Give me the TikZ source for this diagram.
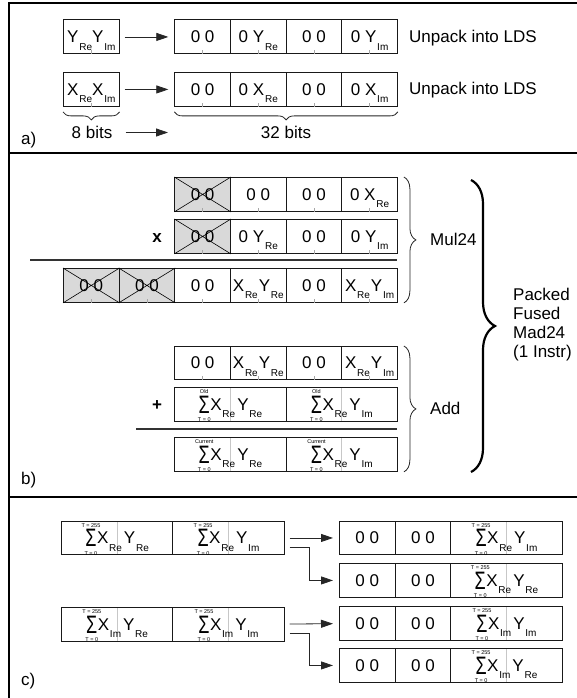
\documentclass[tikz,border=0pt]{standalone}
\usepackage{fontspec}
\usepackage{graphicx}
\setmainfont{Liberation Sans}
\usetikzlibrary{arrows.meta,decorations.pathreplacing,backgrounds}
\newcommand{\sbx}[1]{\kern0.8pt\raisebox{-7.5pt}[0pt][0pt]{\fontsize{10}{10}\selectfont #1}}
\newsavebox\sgbox
\newcommand{\Sg}[1]{%
 \sbox\sgbox{\raisebox{-3pt}{\scalebox{1}[1.4]{\fontsize{18}{18}\selectfont Σ}}}%
 \rlap{\makebox[\wd\sgbox]{\raisebox{16.5pt}[0pt][0pt]{\fontsize{5.5}{5.5}\selectfont #1}}}%
 \rlap{\makebox[\wd\sgbox]{\raisebox{-11.5pt}[0pt][0pt]{\fontsize{5.5}{5.5}\selectfont T = 0}}}%
 \usebox\sgbox\kern0.5pt}
\begin{document}
\begin{tikzpicture}[x=1pt,y=-1pt,
 cell/.style={draw=black!90, line width=0.9pt, minimum width=55.67pt, minimum height=34pt, inner sep=0pt, anchor=north west, text height=12pt, text depth=0pt, font=\fontsize{17}{17}\selectfont},
 dcell/.style={cell, minimum width=111.33pt},
 xcell/.style={cell, fill=black!15},
 lbl/.style={inner sep=0pt, font=\fontsize{17}{19}\selectfont},
 arr/.style={draw=black!85, line width=0.8pt, -{Triangle[length=12pt,width=8pt]}},
 tickmark/.style={draw=black!35, line width=0.5pt},
 midl/.style={draw=black!22, line width=0.7pt},
 crs/.style={draw=black, line width=0.6pt},
 sepline/.style={draw=black!80, line width=1.5pt},
 frm/.style={draw=black, line width=2.6pt},
 brc/.style={draw=black!85, line width=0.8pt, decorate, decoration={brace, amplitude=#1}},
 brc/.default=12pt,
 brcm/.style={draw=black!85, line width=0.8pt, decorate, decoration={brace, mirror, amplitude=#1}},
 brcm/.default=8pt,
 bigbrc/.style={draw=black, line width=2.2pt, decorate, decoration={brace, amplitude=24pt}},
]
\useasboundingbox (0,0) rectangle (576,698);
% frame
\draw[frm] (9,3) rectangle (600,720);
\draw[frm] (9,153) -- (600,153);
\draw[frm] (9,497) -- (600,497);

% ---------- a)
\node[cell] (ys) at (63,19.5) {Y\sbx{Re}Y\sbx{Im}};
\node[cell] (y1) at (174.33,19.5) {0 0};
\node[cell] (y2) at (230,19.5) {0 Y\sbx{Re}};
\node[cell] (y3) at (285.67,19.5) {0 0};
\node[cell] (y4) at (341.33,19.5) {0 Y\sbx{Im}};
\node[lbl, anchor=base west] (u1) at (409,42.5) {Unpack into LDS};
\node[cell] (xs) at (63,72) {X\sbx{Re}X\sbx{Im}};
\node[cell] (x1) at (174.33,72) {0 0};
\node[cell] (x2) at (230,72) {0 X\sbx{Re}};
\node[cell] (x3) at (285.67,72) {0 0};
\node[cell] (x4) at (341.33,72) {0 X\sbx{Im}};
\node[lbl, anchor=base west] (u2) at (409,95) {Unpack into LDS};
\draw[arr, shorten <=5pt, shorten >=6pt] (ys) -- (y1);
\draw[arr, shorten <=5pt, shorten >=6pt] (xs) -- (x1);
\draw[brcm] ([yshift=-5pt]xs.south west) -- ([yshift=-5pt]xs.south east);
\draw[brcm] ([yshift=-5pt]x1.south west) -- ([yshift=-5pt]x4.south east);
\node[lbl, anchor=base] (b8) at (92,139) {8 bits};
\node[lbl, anchor=base] (b32) at (286,139) {32 bits};
\coordinate (a8) at (168,132.5);
\draw[arr, shorten <=13pt] (b8.east |- a8) -- (a8);
\node[lbl, anchor=base west] (la) at (21,144) {a)};

% ---------- b)
\node[xcell] (p1a) at (174.33,177) {0 0};
\node[cell] (p1b) at (230,177) {0 0};
\node[cell] (p1c) at (285.67,177) {0 0};
\node[cell] (p1d) at (341.33,177) {0 X\sbx{Re}};
\node[xcell] (p2a) at (174.33,219) {0 0};
\node[cell] (p2b) at (230,219) {0 Y\sbx{Re}};
\node[cell] (p2c) at (285.67,219) {0 0};
\node[cell] (p2d) at (341.33,219) {0 Y\sbx{Im}};
\node[lbl, font=\bfseries\fontsize{17}{17}\selectfont, anchor=base] (mx) at (157,242.5) {x};
\draw[sepline] (30,260) -- (397,260);
\node[xcell] (p3a) at (63,268) {0 0};
\node[xcell] (p3b) at (118.67,268) {0 0};
\node[cell] (p3c) at (174.33,268) {0 0};
\node[cell] (p3d) at (230,268) {X\sbx{Re}\kern1pt Y\sbx{Re}};
\node[cell] (p3e) at (285.67,268) {0 0};
\node[cell] (p3f) at (341.33,268) {X\sbx{Re}\kern1pt Y\sbx{Im}};
\foreach \n in {p1a,p2a,p3a,p3b}
  \draw[crs] (\n.north west) -- (\n.south east) (\n.north east) -- (\n.south west);
\draw[brc] ([xshift=6pt]p1d.north east) -- ([xshift=6pt]p3f.south east);
\node[lbl, anchor=base west] (mul) at (430,245) {Mul24};

\node[cell, minimum height=33pt] (q1a) at (174.33,346) {0 0};
\node[cell, minimum height=33pt] (q1b) at (230,346) {X\sbx{Re}\kern1pt Y\sbx{Re}};
\node[cell, minimum height=33pt] (q1c) at (285.67,346) {0 0};
\node[cell, minimum height=33pt] (q1d) at (341.33,346) {X\sbx{Re}\kern1pt Y\sbx{Im}};
\node[dcell] (q2a) at (174.33,387) {\Sg{Old}X\sbx{Re}\kern2pt Y\sbx{Re}};
\node[dcell] (q2b) at (285.67,387) {\Sg{Old}X\sbx{Re}\kern2pt Y\sbx{Im}};
\node[lbl, font=\bfseries\fontsize{17}{17}\selectfont] (pl) at (157,406) {+};
\draw[sepline] (136,429) -- (397,429);
\node[dcell] (q3a) at (174.33,437) {\Sg{Current}X\sbx{Re}\kern2pt Y\sbx{Re}};
\node[dcell] (q3b) at (285.67,437) {\Sg{Current}X\sbx{Re}\kern2pt Y\sbx{Im}};
\draw[brc] ([xshift=6pt]q1d.north east) -- ([xshift=6pt]q3b.south east);
\node[lbl, anchor=base west] (add) at (430,414) {Add};
\coordinate (bbt) at (471,180);
\coordinate (bbb) at (471,472);
\draw[bigbrc] (bbt) -- (bbb);
\node[lbl, anchor=north west, align=left] (pk) at (513,287.6) {Packed\\Fused\\Mad24\\(1 Instr)};
\node[lbl, anchor=base west] (lb) at (21,484) {b)};

% ---------- c)
\node[dcell, minimum height=33pt] (l1a) at (61,521) {\Sg{T = 255}X\sbx{Re}\kern2pt Y\sbx{Re}};
\node[dcell, minimum height=33pt] (l1b) at (172.33,521) {\Sg{T = 255}X\sbx{Re}\kern2pt Y\sbx{Im}};
\node[dcell] (l2a) at (61,607) {\Sg{T = 255}X\sbx{Im}\kern2pt Y\sbx{Re}};
\node[dcell] (l2b) at (172.33,607) {\Sg{T = 255}X\sbx{Im}\kern2pt Y\sbx{Im}};

\node[cell, minimum height=33pt] (r1a) at (339,521) {0 0};
\node[cell, minimum height=33pt] (r1b) at (394.67,521) {0 0};
\node[dcell, minimum height=33pt] (r1c) at (450.33,521) {\Sg{T = 255}X\sbx{Re}\kern2pt Y\sbx{Im}};
\node[cell] (r2a) at (339,563) {0 0};
\node[cell] (r2b) at (394.67,563) {0 0};
\node[dcell] (r2c) at (450.33,563) {\Sg{T = 255}X\sbx{Re}\kern2pt Y\sbx{Re}};
\node[cell] (r3a) at (339,606) {0 0};
\node[cell] (r3b) at (394.67,606) {0 0};
\node[dcell] (r3c) at (450.33,606) {\Sg{T = 255}X\sbx{Im}\kern2pt Y\sbx{Im}};
\node[cell] (r4a) at (339,648) {0 0};
\node[cell] (r4b) at (394.67,648) {0 0};
\node[dcell] (r4c) at (450.33,648) {\Sg{T = 255}X\sbx{Im}\kern2pt Y\sbx{Re}};

\draw[arr, shorten <=5pt, shorten >=6pt] (l1b) -- (r1a);
\draw[arr, shorten <=5pt, shorten >=6pt] ([yshift=-9pt]l1b.east) -- ++(25,0) |- (r2a.west);
\draw[arr, shorten <=5pt, shorten >=6pt] (l2b) -- (r3a);
\draw[arr, shorten <=5pt, shorten >=6pt] ([yshift=-9pt]l2b.east) -- ++(25,0) |- (r4a.west);
\node[lbl, anchor=base west] (lc) at (21,685) {c)};

% fine marks
\begin{scope}[on background layer]
\foreach \n in {q2a,q2b,q3a,q3b,l1a,l1b,l2a,l2b,r1c,r2c,r3c,r4c}
  \draw[midl] (\n.north) -- (\n.south);
\end{scope}
\foreach \n in {ys,y1,y2,y3,y4,xs,x1,x2,x3,x4,p1a,p1b,p1c,p1d,p2a,p2b,p2c,p2d,p3a,p3b,p3c,p3d,p3e,p3f,q1a,q1b,q1c,q1d}
  \draw[tickmark] (\n.south) -- ++(0,-4);
\end{tikzpicture}
\end{document}
